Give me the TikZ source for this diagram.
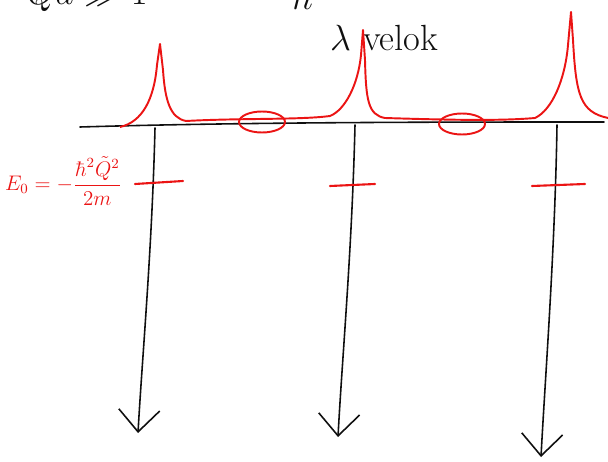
\documentclass[tikz,border=0pt]{standalone}
\usepackage{tikz}
\usetikzlibrary{positioning,arrows.meta,shapes.geometric}
\usepackage{xcolor}
\definecolor{InkRed}{RGB}{235,20,20}
\definecolor{InkBlack}{RGB}{15,15,15}

\begin{document}
\begin{tikzpicture}[
x=0.02cm,y=-0.02cm,
axis/.style={draw=InkBlack,line width=0.9pt,line cap=round},
arrow/.style={-{Straight Barb[length=4.4mm,width=8.2mm,line width=0.9pt]},draw=InkBlack,line width=0.9pt,line cap=round},
level/.style={draw=InkRed,line width=1.2pt,line cap=round},
peak/.style={draw=InkRed,line width=1.1pt,line join=round},
blob/.style={ellipse,draw=InkRed,line width=1.1pt,minimum width=0.92cm,minimum height=0.42cm,inner sep=0pt},
ink/.style={text=InkBlack,font=\huge,inner sep=1pt},
redlabel/.style={text=InkRed,font=\large,inner sep=1pt}
]
\useasboundingbox (0,0) rectangle (608,462);
\begin{scope}
\clip (0,0) rectangle (608,462);
% cut off text at the top
\node[ink,anchor=south west] (cond) at (25,14) {$Qa \gg 1$};
\node[ink,anchor=south] (hbar) at (310,12) {$\hbar^2$};
\end{scope}
\node[ink,anchor=west] (lam) at (328,38) {$\lambda$\,\,velok};

% axis with the three sites
\coordinate (ax0) at (80,127);
\coordinate (ax1) at (604,122);
\draw[axis] (ax0) .. controls (250,122) and (450,122) .. (ax1);
\coordinate (t1) at (155,128);
\coordinate (t2) at (355,125);
\coordinate (t3) at (557,125);
\coordinate (b1) at (138,433);
\coordinate (b2) at (338,437);
\coordinate (b3) at (541,457);
\draw[arrow] (t1) .. controls (152,250) and (142,360) .. (b1);
\draw[arrow] (t2) .. controls (352,250) and (342,360) .. (b2);
\draw[arrow] (t3) .. controls (555,250) and (545,380) .. (b3);

% bound state level
\draw[level] (135,184) -- (183,181);
\draw[level] (330,186) -- (375,184);
\draw[level] (532,186) -- (585,184);
\node[redlabel,anchor=west] (E0) at (3,181) {$E_0=-\displaystyle\frac{\hbar^2\tilde{Q}^2}{2m}$};

% localised wave functions
\draw[peak] (120,127) .. controls (142,122) and (154,100) .. (157,65)
  -- (160,44) -- (163,70) .. controls (165,100) and (170,118) .. (186,121)
  .. controls (240,118) and (300,120) .. (330,116)
  .. controls (345,110) and (358,85) .. (361,55) -- (363,30) -- (365,60)
  .. controls (366,100) and (368,115) .. (385,118)
  .. controls (450,120) and (500,121) .. (535,118)
  .. controls (552,110) and (565,80) .. (568,45) -- (571,12) -- (573,40)
  .. controls (576,95) and (580,112) .. (608,118);
\node[blob] (ov1) at (262,122) {};
\node[blob] (ov2) at (462,124) {};
\end{tikzpicture}
\end{document}
